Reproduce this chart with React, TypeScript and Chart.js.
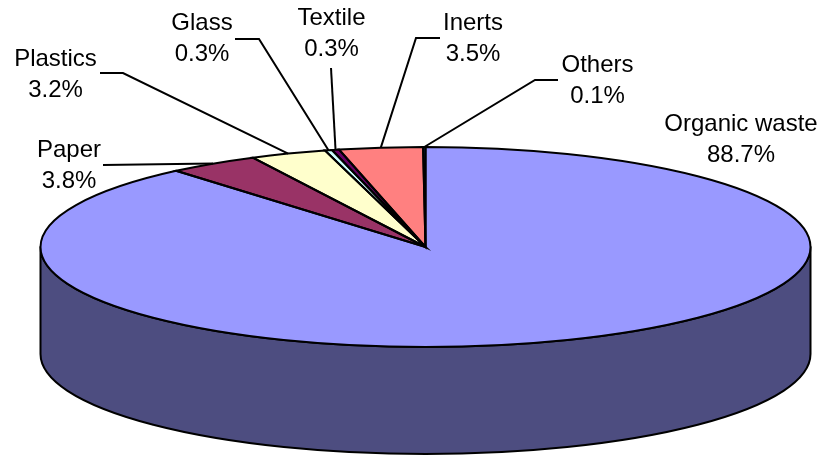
import React, { useEffect, useRef } from 'react';
import { Chart, registerables } from 'chart.js';

Chart.register(...registerables);

// ---- data ----
const categories = ['Organic waste', 'Paper', 'Plastics', 'Glass', 'Textile', 'Inerts', 'Others'];
const shares = [88.7, 3.8, 3.2, 0.3, 0.3, 3.5, 0.1];
const sliceColors = ['#9999FF', '#993366', '#FFFFCC', '#CCFFFF', '#660066', '#FF8080', '#0066CC'];

// ---- layout (not data) ----
const W = 825;
const H = 456;
const CENTER_X = 425.5;
const CENTER_Y = 247;
const RADIUS_Y = 100;
const RADIUS_X = 385;
const DEPTH = 107;
const FONT = '24px "Liberation Sans", Arial, sans-serif';
const LINE_GAP = 31;
// label anchor: [centre x, first-line baseline]
const labelPos: number[][] = [
  [741, 131],
  [69, 157],
  [55.5, 66],
  [202, 30],
  [331.5, 25],
  [473, 30],
  [597.5, 72],
];
// leader line points from the label towards the slice
const leaderPts: number[][][] = [
  [],
  [[103, 165]],
  [[100, 73], [123, 73]],
  [[235, 39], [259, 39]],
  [[331, 68]],
  [[440, 38], [416, 38]],
  [[558, 80], [535, 80]],
];

function darken(hex: string, f = 0.5): string {
  const n = parseInt(hex.slice(1), 16);
  const r = Math.round(((n >> 16) & 255) * f);
  const g = Math.round(((n >> 8) & 255) * f);
  const b = Math.round((n & 255) * f);
  return `rgb(${r},${g},${b})`;
}

const pie3d = {
  id: 'pie3d',
  beforeDatasetsDraw(chart: any) {
    const ctx: CanvasRenderingContext2D = chart.ctx;
    const arcs = chart.getDatasetMeta(0).data;
    const sx = RADIUS_X / RADIUS_Y;
    ctx.save();
    ctx.lineWidth = 2;
    ctx.strokeStyle = '#000';
    ctx.lineJoin = 'round';
    arcs.forEach((el: any, i: number) => {
      const { x, y, startAngle, endAngle, outerRadius } = el.getProps(
        ['x', 'y', 'startAngle', 'endAngle', 'outerRadius'],
        true
      );
      const rx = outerRadius * sx;
      const ry = outerRadius;
      for (const k of [0, 2 * Math.PI]) {
        const s = Math.max(startAngle, k);
        const e = Math.min(endAngle, k + Math.PI);
        if (e <= s) continue;
        ctx.beginPath();
        ctx.ellipse(x, y, rx, ry, 0, s, e, false);
        ctx.lineTo(x + rx * Math.cos(e), y + DEPTH + ry * Math.sin(e));
        ctx.ellipse(x, y + DEPTH, rx, ry, 0, e, s, true);
        ctx.closePath();
        ctx.fillStyle = darken(sliceColors[i]);
        ctx.fill();
        ctx.stroke();
      }
    });
    ctx.restore();
    const { x, y } = arcs[0];
    ctx.save();
    ctx.translate(x, y);
    ctx.scale(sx, 1);
    ctx.translate(-x, -y);
  },
  afterDatasetsDraw(chart: any) {
    const ctx: CanvasRenderingContext2D = chart.ctx;
    ctx.restore();
    const arcs = chart.getDatasetMeta(0).data;
    const sx = RADIUS_X / RADIUS_Y;
    ctx.save();
    ctx.lineWidth = 2;
    ctx.strokeStyle = '#000';
    ctx.lineJoin = 'miter';
    const mids: number[][] = [];
    arcs.forEach((el: any) => {
      const { x, y, startAngle, endAngle, outerRadius } = el.getProps(
        ['x', 'y', 'startAngle', 'endAngle', 'outerRadius'],
        true
      );
      const rx = outerRadius * sx;
      const ry = outerRadius;
      ctx.beginPath();
      ctx.moveTo(x, y);
      ctx.ellipse(x, y, rx, ry, 0, startAngle, endAngle, false);
      ctx.closePath();
      ctx.stroke();
      const m = (startAngle + endAngle) / 2;
      mids.push([x + rx * Math.cos(m), y + ry * Math.sin(m)]);
    });
    // leader lines
    ctx.lineJoin = 'miter';
    leaderPts.forEach((pts, i) => {
      if (!pts.length) return;
      ctx.beginPath();
      ctx.moveTo(pts[0][0], pts[0][1]);
      for (let j = 1; j < pts.length; j++) ctx.lineTo(pts[j][0], pts[j][1]);
      ctx.lineTo(mids[i][0], mids[i][1]);
      ctx.stroke();
    });
    // labels
    ctx.fillStyle = '#000';
    ctx.font = FONT;
    ctx.textAlign = 'center';
    ctx.textBaseline = 'alphabetic';
    categories.forEach((name, i) => {
      const [lx, ly] = labelPos[i];
      ctx.fillText(name, lx, ly);
      ctx.fillText(`${shares[i].toFixed(1)}%`, lx, ly + LINE_GAP);
    });
    ctx.restore();
  },
};

export default function App() {
  const ref = useRef<HTMLCanvasElement>(null);
  useEffect(() => {
    document.body.style.margin = '0';
    const canvas = ref.current;
    if (!canvas) return;
    const chart = new Chart(canvas, {
      type: 'pie',
      data: {
        labels: categories,
        datasets: [
          {
            data: shares,
            backgroundColor: sliceColors,
            borderWidth: 0,
            radius: RADIUS_Y,
            offset: 0,
            hoverOffset: 0,
            clip: false,
          } as any,
        ],
      },
      options: {
        responsive: false,
        animation: false,
        events: [],
        devicePixelRatio: 1,
        layout: {
          padding: {
            left: CENTER_X - 150,
            right: W - CENTER_X - 150,
            top: CENTER_Y - RADIUS_Y,
            bottom: H - CENTER_Y - RADIUS_Y,
          },
        },
        plugins: {
          legend: { display: false },
          tooltip: { enabled: false },
        },
      },
      plugins: [pie3d],
    });
    return () => chart.destroy();
  }, []);
  return (
    <div style={{ width: W, height: H }}>
      <canvas ref={ref} width={W} height={H} style={{ display: 'block' }} />
    </div>
  );
}
